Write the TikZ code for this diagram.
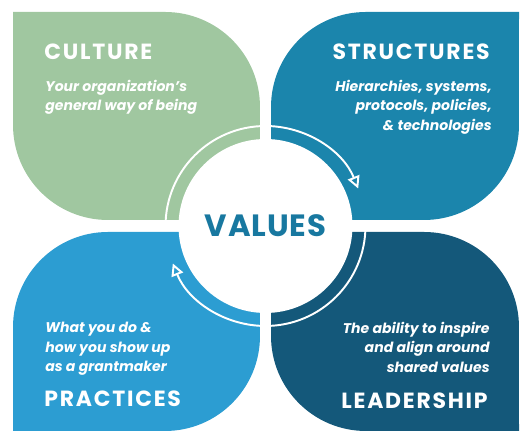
\documentclass[tikz,border=0pt]{standalone}
\usepackage{fontspec}
\setmainfont{Poppins}
\usetikzlibrary{arrows.meta}

\definecolor{culturegreen}{RGB}{160,199,160}
\definecolor{structureblue}{RGB}{27,133,172}
\definecolor{practiceblue}{RGB}{44,157,210}
\definecolor{leadershipblue}{RGB}{20,88,122}
\definecolor{valuesblue}{RGB}{24,120,160}

\begin{document}
\begin{tikzpicture}[
		x=0.02cm, y=0.02cm,
		every node/.style={inner sep=0pt, text=white},
		title/.style={font=\bfseries\fontsize{12.5}{14}\selectfont\addfontfeature{LetterSpace=8}},
		blurb/.style={font=\bfseries\itshape\fontsize{8}{11}\selectfont},
		ring/.style={white, line width=1.1pt, -{Triangle[open, length=7pt, width=7pt]}}
	]
  \useasboundingbox (0,0) rectangle (525,438);
  % the four leaves: square at the outer corner and at the middle
  \fill[culturegreen] (13,426) -- (165,426) arc (90:0:1.9cm) -- (260,218) -- (108,218) arc (270:180:1.9cm) -- cycle;
  \fill[structureblue] (519,426) -- (366,426) arc (90:180:1.9cm) -- (271,218) -- (424,218) arc (270:360:1.9cm) -- cycle;
  \fill[practiceblue] (260,206) -- (108,206) arc (90:180:1.9cm) -- (13,7) -- (165,7) arc (270:360:1.9cm) -- cycle;
  \fill[leadershipblue] (271,206) -- (424,206) arc (90:0:1.9cm) -- (519,7) -- (366,7) arc (270:180:1.9cm) -- cycle;
  \node (values) [circle, fill=white, minimum size=3.48cm, text=valuesblue, font=\bfseries\fontsize{17.5}{18}\selectfont\addfontfeature{LetterSpace=3}] at (265.5,212) {VALUES};
  \draw[ring] (values.center) ++(180:2cm) arc (180:22:2cm);
  \draw[ring] (values.center) ++(0:2cm) arc (0:-158:2cm);
  \node (culture) [title, anchor=base west] at (44,378) {CULTURE};
  \node (culture_text) [blurb, anchor=north west, align=left] at (45,358) {Your organization's\\general way of being};
  \node (structures) [title, anchor=base east] at (490,378) {STRUCTURES};
  \node (structures_text) [blurb, anchor=north east, align=right] at (492,358) {Hierarchies, systems,\\protocols, policies,\\\& technologies};
  \node (practices_text) [blurb, anchor=north west, align=left] at (45,116) {What you do \&\\how you show up\\as a grantmaker};
  \node (practices) [title, anchor=base west] at (44,31) {PRACTICES};
  \node (leadership_text) [blurb, anchor=north east, align=right] at (490,116) {The ability to inspire\\and align around\\shared values};
  \node (leadership) [title, anchor=base east] at (488,29) {LEADERSHIP};
\end{tikzpicture}
\end{document}
